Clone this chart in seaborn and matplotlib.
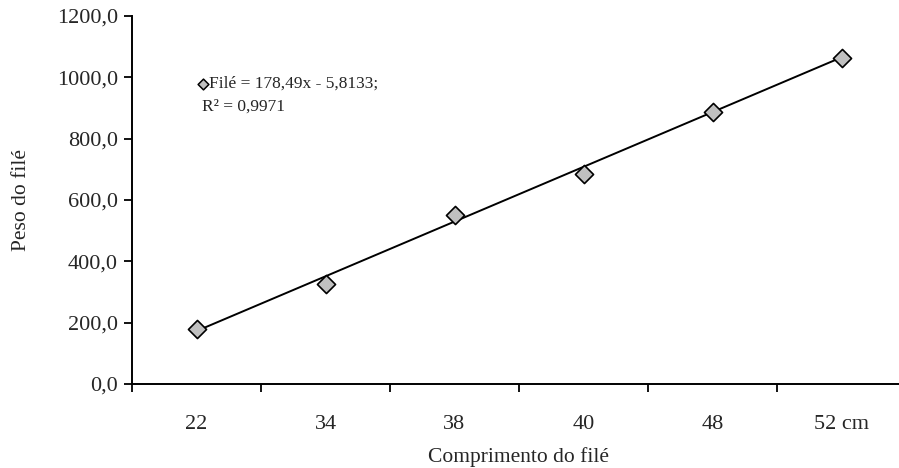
import matplotlib
matplotlib.use("Agg")
import matplotlib.pyplot as plt
import numpy as np
import pandas as pd
import seaborn as sns
from matplotlib.ticker import FuncFormatter, FixedLocator

# ── Data ──────────────────────────────────────────────────────
categories = ["22", "34", "38", "40", "48", "52 cm"]
peso = [179, 326, 551, 685, 888, 1063]
slope = 178.49
intercept = -5.8133
eq_text = "Filé = 178,49x - 5,8133;"
r2_text = "R² = 0,9971"

df = pd.DataFrame({"pos": np.arange(len(categories)), "peso": peso})
df["trend"] = slope * (df["pos"] + 1) + intercept

# ── Style ─────────────────────────────────────────────────────
sns.set_style("white")
plt.rcParams["font.family"] = ["Liberation Serif", "DejaVu Serif"]

fig = plt.figure(figsize=(8.99, 4.68), dpi=100)
ax = fig.add_axes([132 / 899, 84 / 468, 774 / 899, 368 / 468])

sns.lineplot(data=df, x="pos", y="trend", color="black", linewidth=1.4, ax=ax)
sns.scatterplot(data=df, x="pos", y="peso", marker="D", s=85, color="#C0C0C0",
                edgecolor="black", linewidth=1.2, zorder=3, ax=ax)

ax.set_xlim(-0.5, len(categories) - 0.5)
ax.set_ylim(0, 1200)
ax.set_yticks(np.arange(0, 1201, 200))
ax.yaxis.set_major_formatter(FuncFormatter(lambda v, _: f"{v:.1f}".replace(".", ",")))
ax.set_xticks(df["pos"])
ax.set_xticklabels(categories)
ax.xaxis.set_minor_locator(FixedLocator(np.arange(-0.5, len(categories), 1.0)))
ax.tick_params(axis="x", which="major", length=0, pad=22, labelsize=16)
ax.tick_params(axis="x", which="minor", bottom=True, length=6, width=1.3,
               direction="out", color="black")
ax.tick_params(axis="y", left=True, length=6, width=1.3, direction="out",
               color="black", labelsize=16, pad=4)

sns.despine(ax=ax, top=True, right=True)
for side in ["left", "bottom"]:
    ax.spines[side].set_color("black")
    ax.spines[side].set_linewidth(1.4)

ax.set_xlabel("Comprimento do filé", fontsize=15.5, labelpad=10)
ax.set_ylabel("Peso do filé", fontsize=15.5, labelpad=19)

# equation label
ax.scatter([0.05], [978], marker="D", s=30, color="#C0C0C0", edgecolor="black",
           linewidth=1.1, zorder=4, clip_on=False)
ax.text(0.1, 978, eq_text, fontsize=12.5, va="center", ha="left")
ax.text(0.04, 906, r2_text, fontsize=12.5, va="center", ha="left")

fig.savefig("out.png", dpi=100)
